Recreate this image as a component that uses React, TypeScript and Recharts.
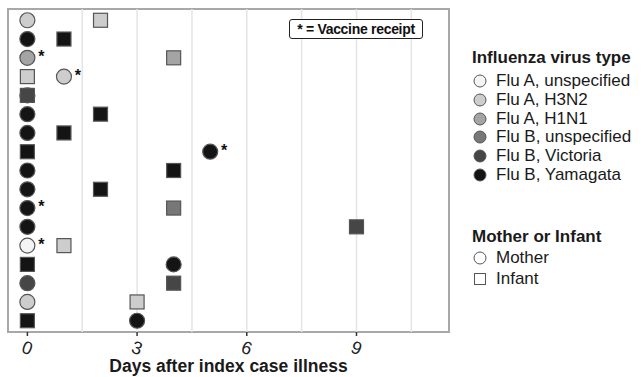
import { ScatterChart, Scatter, XAxis, YAxis, ReferenceLine, ReferenceArea } from 'recharts';

// one row per household, top to bottom
const rowIds = [1, 2, 3, 4, 5, 6, 7, 8, 9, 10, 11, 12, 13, 14, 15, 16, 17];

// index case (always day 0)
const indexType = [
  'Flu A, H3N2', 'Flu B, Yamagata', 'Flu A, H1N1', 'Flu A, H3N2', 'Flu B, Victoria', 'Flu B, Yamagata',
  'Flu B, Yamagata', 'Flu B, Yamagata', 'Flu B, Yamagata', 'Flu B, Yamagata', 'Flu B, Yamagata',
  'Flu B, Yamagata', 'Flu A, unspecified', 'Flu B, Yamagata', 'Flu B, Victoria', 'Flu A, H3N2', 'Flu B, Yamagata',
];
const indexRole = [
  'Mother', 'Mother', 'Mother', 'Infant', 'Infant', 'Mother', 'Mother', 'Infant', 'Mother',
  'Mother', 'Mother', 'Mother', 'Mother', 'Infant', 'Mother', 'Mother', 'Infant',
];
const indexVaccine = [false, false, true, false, false, false, false, false, false, false, true, false, true, false, false, false, false];

// secondary case
const secondDay = [2, 1, 4, 1, 0, 2, 1, 5, 4, 2, 4, 9, 1, 4, 4, 3, 3];
const secondType = [
  'Flu A, H3N2', 'Flu B, Yamagata', 'Flu A, H1N1', 'Flu A, H3N2', 'Flu B, Victoria', 'Flu B, Yamagata',
  'Flu B, Yamagata', 'Flu B, Yamagata', 'Flu B, Yamagata', 'Flu B, Yamagata', 'Flu B, unspecified',
  'Flu B, Victoria', 'Flu A, H3N2', 'Flu B, Yamagata', 'Flu B, Victoria', 'Flu A, H3N2', 'Flu B, Yamagata',
];
const secondRole = [
  'Infant', 'Infant', 'Infant', 'Mother', 'Mother', 'Infant', 'Infant', 'Mother', 'Infant',
  'Infant', 'Infant', 'Infant', 'Infant', 'Mother', 'Infant', 'Infant', 'Mother',
];
const secondVaccine = [false, false, false, true, false, false, false, true, false, false, false, false, false, false, false, false, false];

const virusTypes = ['Flu A, unspecified', 'Flu A, H3N2', 'Flu A, H1N1', 'Flu B, unspecified', 'Flu B, Victoria', 'Flu B, Yamagata'];
const virusColors = ['#f4f4f4', '#cdcdcd', '#a4a4a4', '#777777', '#464646', '#141414'];
const roles = ['Mother', 'Infant'];

const xTicks = [0, 3, 6, 9];
const gridDays = [1.5, 3, 4.5, 6, 7.5, 9, 10.5];

const X_DOMAIN: [number, number] = [-0.53, 11.53];
const Y_DOMAIN: [number, number] = [0.4, 17.6];
const FONT = '"Liberation Sans", Arial, Helvetica, sans-serif';

const points = [
  ...rowIds.map((r, i) => ({ day: 0, row: r, type: indexType[i], role: indexRole[i], vaccine: indexVaccine[i] })),
  ...rowIds.map((r, i) => ({ day: secondDay[i], row: r, type: secondType[i], role: secondRole[i], vaccine: secondVaccine[i] })),
].sort((a, b) => (a.role === b.role ? 0 : a.role === 'Mother' ? -1 : 1));

const colorOf = (t: string) => virusColors[virusTypes.indexOf(t)];

const Marker = (props: any) => {
  const { cx, cy, payload } = props;
  const fill = colorOf(payload.type);
  return (
    <g>
      {payload.role === 'Mother' ? (
        <circle cx={cx} cy={cy} r={7.5} fill={fill} stroke="#555" strokeWidth={1.2} />
      ) : (
        <rect x={cx - 7} y={cy - 7} width={14} height={14} fill={fill} stroke="#555" strokeWidth={1.2} />
      )}
      {payload.vaccine && (
        <text x={cx + 14} y={cy + 4} fontSize={16} fontWeight="bold" fill="#111" textAnchor="middle" fontFamily={FONT}>
          *
        </text>
      )}
    </g>
  );
};

const Tick = (props: any) => {
  const { x, y, payload } = props;
  return (
    <text
      x={x}
      y={y + 16}
      textAnchor="middle"
      fontSize={18}
      fill="#222"
      fontFamily={FONT}
      transform={`rotate(20, ${x}, ${y + 10})`}
    >
      {payload.value}
    </text>
  );
};

const LegendBox = () => {
  const itemTop = 80.7;
  const fs = 17;
  return (
    <div style={{ position: 'absolute', left: 466, top: 0, width: 175, height: 300, fontFamily: FONT, color: '#1a1a1a' }}>
      <div style={{ position: 'absolute', left: 6, top: 58.3 - 10, fontWeight: 'bold', fontSize: fs, lineHeight: '20px', whiteSpace: 'nowrap' }}>
        Influenza virus type
      </div>
      {virusTypes.map((t, i) => (
        <div key={t} style={{ position: 'absolute', left: 7, top: itemTop + i * 18.9 - 10, height: 20, display: 'flex', alignItems: 'center', whiteSpace: 'nowrap' }}>
          <svg width={14} height={14} style={{ marginRight: 9 }}>
            <circle cx={7} cy={7} r={6} fill={virusColors[i]} stroke="#555" strokeWidth={1} />
          </svg>
          <span style={{ fontSize: fs, lineHeight: '20px' }}>{t}</span>
        </div>
      ))}
      <div style={{ position: 'absolute', left: 6, top: 236.7 - 10, fontWeight: 'bold', fontSize: fs, lineHeight: '20px', whiteSpace: 'nowrap' }}>
        Mother or Infant
      </div>
      {roles.map((r, i) => (
        <div key={r} style={{ position: 'absolute', left: 7, top: 258 + i * 21 - 10, height: 20, display: 'flex', alignItems: 'center', whiteSpace: 'nowrap' }}>
          <svg width={14} height={14} style={{ marginRight: 9 }}>
            {r === 'Mother' ? (
              <circle cx={7} cy={7} r={6} fill="#fff" stroke="#555" strokeWidth={1} />
            ) : (
              <rect x={1.5} y={1.5} width={11} height={11} fill="#fff" stroke="#555" strokeWidth={1} />
            )}
          </svg>
          <span style={{ fontSize: fs, lineHeight: '20px' }}>{r}</span>
        </div>
      ))}
    </div>
  );
};

export default function App() {
  return (
    <div style={{ position: 'absolute', left: 0, top: 0, width: 641, height: 377, background: '#fff' }}>
      <ScatterChart width={641} height={377} margin={{ top: 9, right: 192, bottom: 0, left: 8 }}>
        <XAxis
          type="number"
          dataKey="day"
          domain={X_DOMAIN}
          ticks={xTicks}
          allowDataOverflow
          axisLine={false}
          tickLine={{ stroke: '#333', strokeWidth: 1.5 }}
          tickSize={4}
          tick={<Tick />}
          height={45}
          label={{
            value: 'Days after index case illness',
            position: 'insideBottom',
            offset: 5,
            style: { fontSize: 17.5, fontWeight: 'bold', fill: '#1a1a1a', fontFamily: FONT },
          }}
        />
        <YAxis type="number" dataKey="row" domain={Y_DOMAIN} reversed hide width={0} allowDataOverflow />
        {gridDays.map((d) => (
          <ReferenceLine key={d} x={d} stroke="#e4e4e4" strokeWidth={1.5} />
        ))}
        <ReferenceArea
          x1={X_DOMAIN[0]}
          x2={X_DOMAIN[1]}
          y1={Y_DOMAIN[0]}
          y2={Y_DOMAIN[1]}
          fill="none"
          fillOpacity={0}
          stroke="#a8a8a8"
          strokeWidth={2}
        />
        <Scatter data={points} shape={<Marker />} isAnimationActive={false} />
      </ScatterChart>
      <LegendBox />
      <div
        style={{
          position: 'absolute',
          left: 289,
          top: 19,
          width: 132,
          height: 18,
          border: '1.5px solid #222',
          borderRadius: 3,
          fontFamily: FONT,
          fontWeight: 'bold',
          fontSize: 14,
          lineHeight: '18px',
          textAlign: 'center',
          color: '#111',
          whiteSpace: 'nowrap',
          letterSpacing: -0.3,
          background: '#fff',
        }}
      >
        * = Vaccine receipt
      </div>
    </div>
  );
}
